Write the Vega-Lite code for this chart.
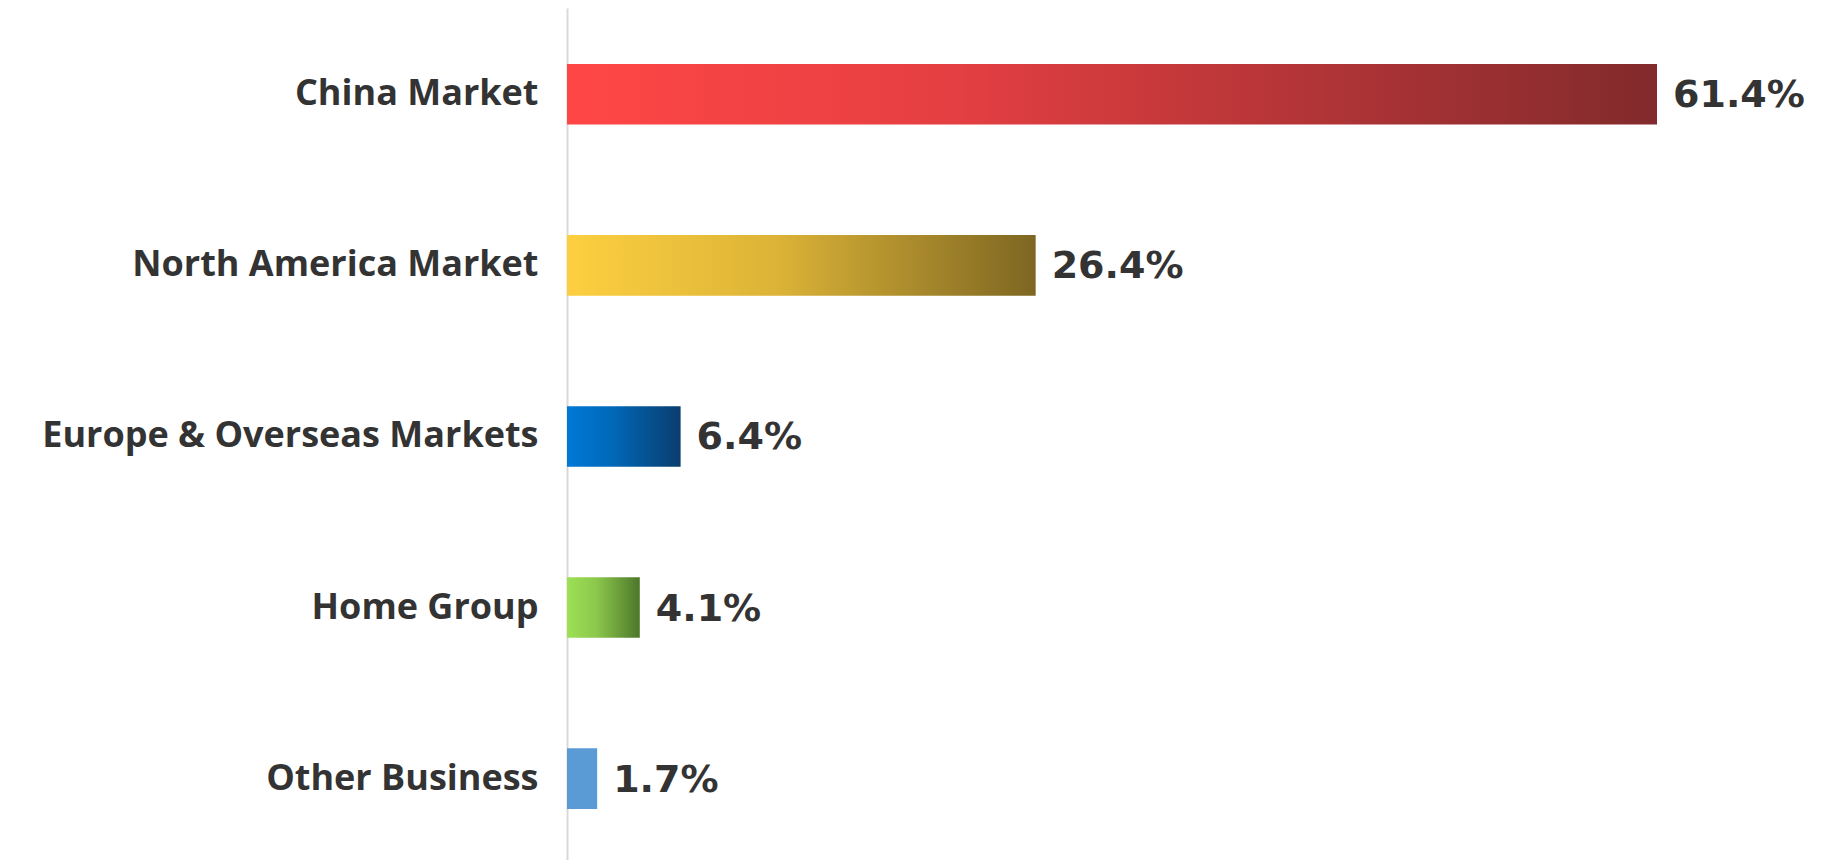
{
  "$schema": "https://vega.github.io/schema/vega-lite/v6.json",
  "autosize": "none",
  "padding": {"left": 567, "top": 8, "right": 171, "bottom": 0},
  "width": 1090,
  "height": 852,
  "background": "white",
  "config": {"view": {"stroke": null}},
  "data": {
    "values": [
      {"segment": "China Market", "share": 0.614},
      {"segment": "North America Market", "share": 0.264},
      {"segment": "Europe & Overseas Markets", "share": 0.064},
      {"segment": "Home Group", "share": 0.041},
      {"segment": "Other Business", "share": 0.017}
    ]
  },
  "encoding": {
    "y": {
      "field": "segment", "type": "nominal", "sort": null, "title": null,
      "scale": {"paddingInner": 0.646, "paddingOuter": 0.313, "align": 0.523},
      "axis": {
        "ticks": false, "domainColor": "#d9d9d9", "domainWidth": 2,
        "labelFont": "Open Sans", "labelFontWeight": "bold", "labelFontSize": 36,
        "labelColor": "#333333", "labelPadding": 29, "labelLimit": 700
      }
    },
    "x": {"field": "share", "type": "quantitative", "scale": {"domain": [0, 0.614], "nice": false}, "axis": null}
  },
  "layer": [
    {
      "transform": [{"filter": "datum.segment === 'China Market'"}],
      "mark": {"type": "bar", "color": {"gradient": "linear", "x1": 0, "x2": 1, "y1": 0, "y2": 0, "stops": [{"offset": 0, "color": "#ff4646"}, {"offset": 0.35, "color": "#e53f42"}, {"offset": 1, "color": "#822a2c"}]}}
    },
    {
      "transform": [{"filter": "datum.segment === 'North America Market'"}],
      "mark": {"type": "bar", "color": {"gradient": "linear", "x1": 0, "x2": 1, "y1": 0, "y2": 0, "stops": [{"offset": 0, "color": "#fdcf40"}, {"offset": 0.45, "color": "#dcb337"}, {"offset": 1, "color": "#7d6622"}]}}
    },
    {
      "transform": [{"filter": "datum.segment === 'Europe & Overseas Markets'"}],
      "mark": {"type": "bar", "color": {"gradient": "linear", "x1": 0, "x2": 1, "y1": 0, "y2": 0, "stops": [{"offset": 0, "color": "#0079d6"}, {"offset": 0.4, "color": "#0068b8"}, {"offset": 1, "color": "#0a3d6e"}]}}
    },
    {
      "transform": [{"filter": "datum.segment === 'Home Group'"}],
      "mark": {"type": "bar", "color": {"gradient": "linear", "x1": 0, "x2": 1, "y1": 0, "y2": 0, "stops": [{"offset": 0, "color": "#9de055"}, {"offset": 0.4, "color": "#8cc84c"}, {"offset": 1, "color": "#4d772a"}]}}
    },
    {
      "transform": [{"filter": "datum.segment === 'Other Business'"}],
      "mark": {"type": "bar", "color": "#5b9bd5"}
    },
    {
      "mark": {"type": "text", "align": "left", "baseline": "middle", "dx": 16, "dy": 2, "font": "DejaVu Sans", "fontWeight": "bold", "fontSize": 38, "color": "#333333"},
      "encoding": {"text": {"field": "share", "type": "quantitative", "format": ".1%"}}
    }
  ]
}
